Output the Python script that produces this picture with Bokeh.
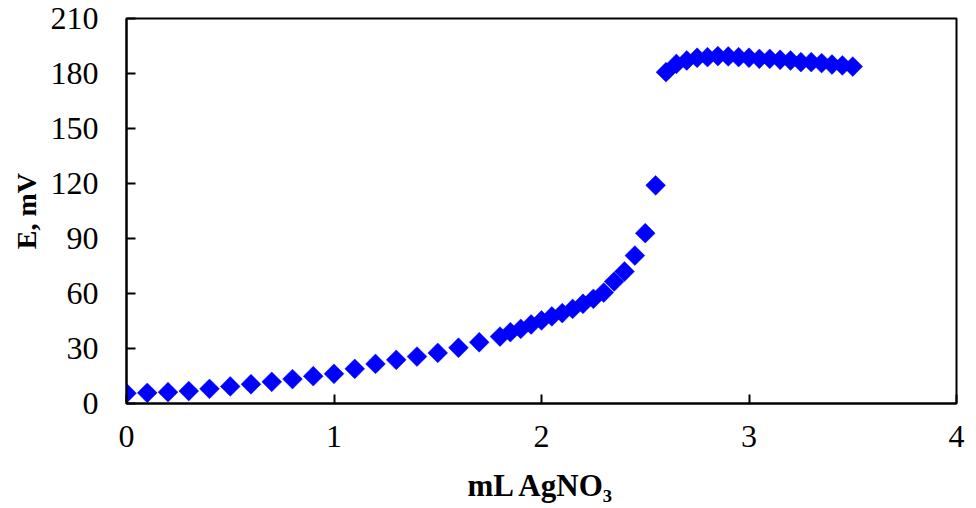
import math
from bokeh.plotting import figure
from bokeh.models import FixedTicker, Range1d
from bokeh.embed import file_html
from bokeh.resources import INLINE

# Data
ml_agno3 = [0.0, 0.1, 0.2, 0.3, 0.4, 0.5, 0.6, 0.7, 0.8, 0.9, 1.0, 1.1, 1.2, 1.3, 1.4, 1.5, 1.6, 1.7,
            1.8, 1.85, 1.9, 1.95, 2.0, 2.05, 2.1, 2.15, 2.2, 2.25, 2.3, 2.35, 2.4, 2.45, 2.5, 2.55,
            2.6, 2.65, 2.7, 2.75, 2.8, 2.85, 2.9, 2.95, 3.0, 3.05, 3.1, 3.15, 3.2, 3.25, 3.3, 3.35,
            3.4, 3.45, 3.5]
e_mv = [5.6, 5.8, 6.2, 6.8, 8.0, 9.3, 10.5, 11.8, 13.3, 14.9, 16.2, 18.9, 21.6, 23.8, 25.6, 27.6, 30.4, 33.4,
        36.5, 38.9, 40.7, 43.1, 45.3, 47.5, 49.3, 51.6, 54.4, 57.1, 60.5, 66.5, 72.0, 80.7, 92.9, 119.0,
        180.7, 185.2, 187.1, 188.6, 188.9, 189.5, 189.3, 188.9, 188.6, 188.0, 188.0, 187.5, 187.1, 186.2, 186.2, 185.7,
        184.9, 184.4, 183.8]
x_ticks = [0, 1, 2, 3, 4]
y_ticks = [0, 30, 60, 90, 120, 150, 180, 210]
x_title = "mL AgNO\u2083"
y_title = "E, mV"

FONT = "Liberation Serif"

p = figure(width=976, height=508, output_backend="svg", toolbar_location=None,
           x_range=Range1d(0, 4), y_range=Range1d(0, 210),
           min_border_left=126, min_border_right=20, min_border_top=18, min_border_bottom=105)
p.background_fill_color = "white"
p.border_fill_color = "white"
p.xgrid.visible = False
p.ygrid.visible = False
p.outline_line_color = "black"
p.outline_line_width = 2
p.outline_line_alpha = 1

for ax in (p.xaxis[0], p.yaxis[0]):
    ax.axis_line_width = 2
    ax.major_tick_line_width = 2
    ax.major_tick_in = 9
    ax.major_tick_out = 0
    ax.minor_tick_in = 0
    ax.minor_tick_out = 0
    ax.major_label_text_font = FONT
    ax.major_label_text_font_size = "32px"
    ax.major_label_text_color = "black"
    ax.axis_label_text_font = FONT
    ax.axis_label_text_font_style = "bold"
    ax.axis_label_text_color = "black"

p.xaxis[0].ticker = FixedTicker(ticks=x_ticks)
p.yaxis[0].ticker = FixedTicker(ticks=y_ticks)
p.xaxis[0].major_label_standoff = 22
p.yaxis[0].major_label_standoff = 28

p.xaxis[0].axis_label = x_title
p.xaxis[0].axis_label_text_font_size = "31px"
p.xaxis[0].axis_label_standoff = 18
p.yaxis[0].axis_label = y_title
p.yaxis[0].axis_label_text_font_size = "28px"
p.yaxis[0].axis_label_standoff = 6

p.scatter(ml_agno3, e_mv, marker="square", size=14, angle=math.pi / 4,
          fill_color="#0000FF", line_color="#0000FF", line_width=0.5)

open("out.html", "w").write(file_html(p, INLINE))
